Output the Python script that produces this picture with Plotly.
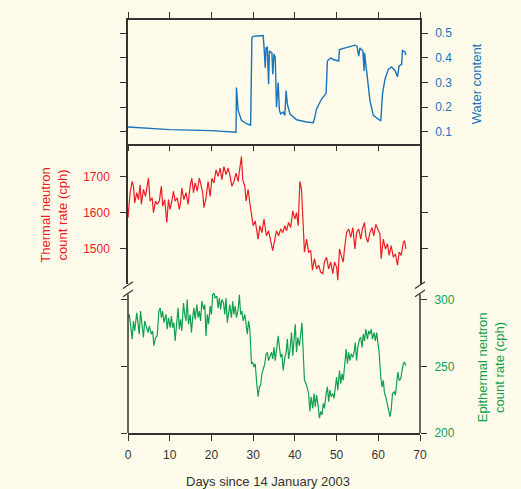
import plotly.graph_objects as go

# ---------------- data ----------------
water_day = [0.0, 10.0, 20.0, 25.9, 26.0, 26.2, 26.4, 27.2, 28.4, 29.4, 29.7, 30.0, 32.4, 32.6,
             32.9, 33.1, 33.4, 33.7, 33.9, 34.5, 34.7, 35.0, 35.3, 35.6, 36.0, 36.3, 36.6,
             37.2, 37.6, 37.9, 38.2, 38.8, 40.4, 42.8, 44.4, 44.7, 45.2, 46.4, 47.5, 47.8,
             48.6, 49.2, 50.5, 50.7, 51.6, 53.2, 54.4, 54.9, 55.3, 55.6, 56.3, 56.6, 56.7,
             57.2, 58.0, 58.8, 60.0, 60.6, 61.0, 61.6, 62.4, 63.2, 64.0, 64.6, 65.0, 65.6,
             65.8, 66.4, 66.6]
water_content = [0.120, 0.109, 0.105, 0.099, 0.280, 0.220, 0.187, 0.147, 0.133, 0.127, 0.480,
                 0.487, 0.490, 0.447, 0.360, 0.440, 0.443, 0.293, 0.427, 0.420, 0.333, 0.416,
                 0.400, 0.200, 0.300, 0.187, 0.173, 0.180, 0.167, 0.267, 0.213, 0.173, 0.149,
                 0.140, 0.137, 0.153, 0.193, 0.233, 0.256, 0.387, 0.400, 0.393, 0.387, 0.433,
                 0.437, 0.447, 0.451, 0.447, 0.407, 0.440, 0.427, 0.347, 0.420, 0.347, 0.227,
                 0.167, 0.149, 0.144, 0.253, 0.313, 0.353, 0.363, 0.349, 0.323, 0.367, 0.373,
                 0.430, 0.424, 0.411]

thermal_day = [0.0, 0.5, 1.0, 1.3, 1.6, 2.1, 2.5, 2.9, 3.2, 3.7, 4.2, 4.5, 4.9, 5.3, 5.8, 6.1,
               6.6, 7.0, 7.5, 8.0, 8.3, 8.8, 9.3, 9.7, 10.1, 10.5, 10.9, 11.3, 11.8, 12.3, 12.6,
               12.9, 13.4, 13.9, 14.4, 14.9, 15.3, 15.7, 16.1, 16.6, 17.1, 17.4, 17.9, 18.2,
               18.7, 19.2, 19.7, 20.1, 20.6, 21.1, 21.6, 22.1, 22.5, 23.0, 23.5, 24.0, 24.4,
               24.9, 25.4, 25.9, 26.4, 26.7, 27.2, 27.5, 28.0, 28.3, 28.8, 29.2, 29.7, 30.0,
               30.5, 30.8, 31.2, 31.6, 32.1, 32.6, 32.9, 33.2, 33.7, 34.2, 34.7, 35.2, 35.6,
               36.1, 36.6, 37.1, 37.6, 38.0, 38.5, 39.0, 39.5, 40.0, 40.4, 40.8, 41.2, 41.6,
               42.0, 42.3, 42.8, 43.3, 43.8, 44.2, 44.7, 45.2, 45.7, 46.2, 46.7, 47.1, 47.6,
               48.1, 48.6, 49.1, 49.5, 50.0, 50.3, 50.7, 51.1, 51.6, 51.9, 52.4, 52.9, 53.4,
               53.9, 54.4, 54.8, 55.3, 55.8, 56.2, 56.7, 57.0, 57.5, 58.0, 58.5, 58.9, 59.4,
               59.9, 60.4, 60.7, 61.2, 61.7, 62.2, 62.6, 63.1, 63.6, 64.1, 64.6, 65.0, 65.5,
               66.0, 66.3, 66.6]
thermal_rate = [1586, 1655, 1686, 1673, 1627, 1655, 1636, 1677, 1623, 1664, 1645, 1668, 1695,
                1632, 1641, 1600, 1632, 1623, 1632, 1673, 1618, 1636, 1573, 1636, 1609, 1632,
                1659, 1632, 1641, 1609, 1627, 1668, 1636, 1655, 1623, 1673, 1695, 1655, 1682,
                1659, 1695, 1682, 1655, 1614, 1641, 1686, 1645, 1695, 1682, 1718, 1700, 1723,
                1691, 1727, 1705, 1723, 1705, 1673, 1686, 1709, 1686, 1714, 1755, 1691, 1673,
                1632, 1664, 1627, 1582, 1564, 1577, 1555, 1527, 1564, 1545, 1582, 1555, 1536,
                1550, 1518, 1495, 1527, 1550, 1536, 1555, 1545, 1564, 1550, 1573, 1559, 1605,
                1582, 1600, 1564, 1686, 1664, 1573, 1491, 1527, 1491, 1495, 1441, 1473, 1445,
                1455, 1436, 1432, 1464, 1477, 1445, 1464, 1432, 1464, 1450, 1414, 1500, 1482,
                1464, 1500, 1545, 1555, 1532, 1559, 1500, 1545, 1555, 1527, 1555, 1573, 1536,
                1518, 1545, 1559, 1536, 1568, 1555, 1541, 1473, 1527, 1500, 1514, 1482, 1509,
                1477, 1486, 1455, 1491, 1482, 1518, 1523, 1500]

epi_day = [0.0, 0.3, 0.6, 1.0, 1.3, 1.6, 2.1, 2.4, 2.7, 3.0, 3.4, 3.7, 4.0, 4.5, 4.8, 5.1, 5.6,
           5.9, 6.2, 6.6, 7.0, 7.4, 7.7, 8.0, 8.3, 8.6, 9.1, 9.4, 9.7, 10.1, 10.4, 10.7, 11.0,
           11.3, 11.7, 12.0, 12.3, 12.6, 12.9, 13.3, 13.6, 13.9, 14.2, 14.5, 14.9, 15.2, 15.5,
           15.8, 16.1, 16.5, 16.8, 17.1, 17.4, 17.7, 18.1, 18.4, 18.7, 19.0, 19.3, 19.7, 20.0,
           20.3, 20.6, 20.9, 21.3, 21.6, 21.9, 22.2, 22.5, 22.9, 23.2, 23.5, 23.8, 24.1, 24.4,
           24.8, 25.1, 25.4, 25.7, 26.0, 26.4, 26.7, 27.0, 27.3, 27.6, 28.0, 28.3, 28.6, 28.9,
           29.2, 29.6, 29.9, 30.2, 30.5, 30.8, 31.2, 31.5, 31.8, 32.1, 32.4, 32.8, 33.1, 33.4,
           33.7, 34.0, 34.4, 34.7, 35.0, 35.3, 35.6, 36.0, 36.3, 36.6, 36.9, 37.2, 37.6, 37.9,
           38.2, 38.5, 38.8, 39.2, 39.5, 39.8, 40.1, 40.4, 40.7, 41.1, 41.4, 41.7, 42.0, 42.3,
           42.7, 43.0, 43.3, 43.6, 43.9, 44.3, 44.6, 44.9, 45.2, 45.5, 45.9, 46.2, 46.5, 46.8,
           47.1, 47.5, 47.8, 48.1, 48.4, 48.7, 49.1, 49.4, 49.7, 50.0, 50.3, 50.7, 51.0, 51.3,
           51.6, 51.9, 52.3, 52.6, 52.9, 53.2, 53.5, 53.9, 54.2, 54.5, 54.8, 55.1, 55.5, 55.8,
           56.1, 56.4, 56.7, 57.0, 57.4, 57.7, 58.0, 58.3, 58.6, 59.0, 59.3, 59.6, 59.9, 60.2,
           60.6, 60.9, 61.2, 61.5, 61.8, 62.2, 62.5, 62.8, 63.1, 63.4, 63.8, 64.1, 64.4, 64.7,
           65.0, 65.4, 65.7, 66.0, 66.3, 66.6]
epi_rate = [286.4, 288.9, 281.5, 270.4, 284.0, 276.5, 290.1, 279.0, 274.1, 291.4, 281.5, 271.6,
            284.0, 279.0, 275.3, 280.2, 274.1, 276.5, 265.4, 271.6, 272.8, 291.4, 293.8, 286.4,
            291.4, 282.7, 288.9, 277.8, 286.4, 279.0, 287.7, 279.0, 282.7, 269.1, 287.7, 293.8,
            277.8, 285.2, 276.5, 297.5, 288.9, 284.0, 300.0, 281.5, 288.9, 275.3, 286.4, 293.8,
            285.2, 296.3, 286.4, 291.4, 284.0, 298.8, 292.6, 296.3, 272.8, 288.9, 281.5, 295.1,
            288.9, 303.7, 304.9, 301.2, 302.5, 293.8, 301.2, 292.6, 300.0, 297.5, 288.9, 301.2,
            282.7, 291.4, 296.3, 286.4, 298.8, 288.9, 295.1, 286.4, 292.6, 303.7, 288.9, 291.4,
            284.0, 288.9, 281.5, 274.1, 284.0, 277.8, 251.9, 253.1, 249.4, 251.9, 239.5, 227.2,
            234.6, 235.8, 244.4, 248.2, 251.9, 259.3, 260.5, 254.3, 256.8, 260.5, 255.6, 264.2,
            254.3, 263.0, 272.8, 264.2, 256.8, 259.3, 246.9, 256.8, 260.5, 270.4, 255.6, 261.7,
            275.3, 258.0, 269.1, 281.5, 260.5, 271.6, 265.4, 276.5, 282.7, 260.5, 239.5, 237.0,
            232.1, 229.6, 216.1, 227.2, 218.5, 229.6, 219.8, 228.4, 222.2, 211.1, 216.1, 213.6,
            222.2, 218.5, 229.6, 234.6, 223.5, 232.1, 227.2, 229.6, 225.9, 234.6, 242.0, 232.1,
            246.9, 237.0, 244.4, 239.5, 251.9, 263.0, 251.9, 260.5, 254.3, 259.3, 256.8, 260.5,
            267.9, 254.3, 264.2, 270.4, 271.6, 264.2, 274.1, 269.1, 277.8, 270.4, 276.5, 274.1,
            277.8, 270.4, 275.3, 269.1, 275.3, 266.7, 260.5, 242.0, 234.6, 239.5, 229.6, 227.2,
            221.0, 218.5, 212.3, 217.3, 229.6, 230.9, 228.4, 237.0, 245.7, 239.5, 240.7, 246.9,
            251.9, 253.1, 250.6]

x_ticks = [0, 10, 20, 30, 40, 50, 60, 70]
water_ticks = [0.1, 0.2, 0.3, 0.4, 0.5]
thermal_ticks = [1500, 1600, 1700]
epi_ticks = [200, 250, 300]

# ---------------- styling ----------------
BG = "#FFFBEA"
AX = "#333333"
BLUE = "#1874BC"
RED = "#EC1C24"
GREEN = "#0FA150"
FONT = "Liberation Sans, Arial, sans-serif"

W, H = 521, 489
ML, MR, MT, MB = 128, 101, 15, 56
PW, PH = W - ML - MR, H - MT - MB


def px(xp):
    return (xp - ML) / PW


def py(yp):
    return (H - MB - yp) / PH


fig = go.Figure()
fig.add_trace(go.Scatter(x=water_day, y=water_content, mode="lines",
                         line=dict(color=BLUE, width=1.4), xaxis="x3", yaxis="y3"))
fig.add_trace(go.Scatter(x=thermal_day, y=thermal_rate, mode="lines",
                         line=dict(color=RED, width=1.2), xaxis="x2", yaxis="y2"))
fig.add_trace(go.Scatter(x=epi_day, y=epi_rate, mode="lines",
                         line=dict(color=GREEN, width=1.2), xaxis="x", yaxis="y"))

common_y = dict(showgrid=False, zeroline=False, ticks="outside", ticklen=6,
                tickcolor=AX, tickwidth=1.3)

fig.update_layout(
    width=W, height=H,
    margin=dict(l=ML, r=MR, t=MT, b=MB),
    paper_bgcolor=BG, plot_bgcolor=BG,
    showlegend=False,
    font=dict(family=FONT, size=12, color=AX),
    xaxis=dict(domain=[0, 1], anchor="y", range=[0, 70], tickvals=x_ticks,
               showgrid=False, zeroline=False, showline=True, linecolor=AX, linewidth=1.5,
               ticks="outside", ticklen=6, tickcolor=AX, tickwidth=1.3,
               tickfont=dict(size=12, color=AX), ticklabelstandoff=4),
    xaxis2=dict(domain=[0, 1], anchor="y2", matches="x", visible=False),
    xaxis3=dict(domain=[0, 1], anchor="y3", matches="x", tickvals=x_ticks,
                showgrid=False, zeroline=False, showline=True, linecolor=AX, linewidth=1.5,
                mirror="ticks", ticks="outside", ticklen=6, tickcolor=AX, tickwidth=1.3,
                showticklabels=False),
    yaxis=dict(domain=[0, py(289)], anchor="x", range=[200, 200 + (H - MB - 289) / 1.35],
               tickvals=epi_ticks, side="right", mirror="ticks", showline=False,
               tickfont=dict(size=12, color=GREEN), ticklabelstandoff=5, **common_y),
    yaxis2=dict(domain=[py(282), py(140)], anchor="x2", range=[1403.8, 1790.7],
                tickvals=thermal_ticks, side="left", showline=True, linecolor=AX, linewidth=1.5,
                mirror="ticks", tickfont=dict(size=12, color=RED), ticklabelstandoff=8,
                **common_y),
    yaxis3=dict(domain=[py(140), 1], anchor="x3", range=[0.053, 0.553],
                tickvals=water_ticks, tickformat=".1f", side="right", showline=True,
                linecolor=AX, linewidth=1.5, mirror="ticks",
                tickfont=dict(size=12, color=BLUE), ticklabelstandoff=5, **common_y),
)

shapes = []
# bottom panel vertical axis lines (start below the break)
for xv in (0, 1):
    shapes.append(dict(type="line", xref="paper", yref="paper", x0=xv, x1=xv,
                       y0=0, y1=py(292.5), line=dict(color=AX, width=1.5)))
# break marks
for xc in (128, 420):
    for yc in (283.3, 291.6):
        shapes.append(dict(type="line", xref="paper", yref="paper",
                           x0=px(xc - 5), y0=py(yc + 3.4), x1=px(xc + 5), y1=py(yc - 3.4),
                           line=dict(color=AX, width=1.2)))
fig.update_layout(shapes=shapes)

annotations = [
    dict(text="Thermal neutron<br>count rate (cph)", x=px(54.5), y=py(212.5),
         xref="paper", yref="paper", showarrow=False, textangle=-90,
         font=dict(size=13, color=RED), xanchor="center", yanchor="middle"),
    dict(text="Water content", x=px(476), y=py(80), xref="paper", yref="paper",
         showarrow=False, textangle=-90, font=dict(size=13, color=BLUE),
         xanchor="center", yanchor="middle"),
    dict(text="Epithermal neutron<br>count rate (cph)", x=px(491), y=py(366.5),
         xref="paper", yref="paper", showarrow=False, textangle=-90,
         font=dict(size=13, color=GREEN), xanchor="center", yanchor="middle"),
    dict(text="Days since 14 January 2003", x=px(267.7), y=py(482), xref="paper",
         yref="paper", showarrow=False, font=dict(size=13, color=AX),
         xanchor="center", yanchor="middle"),
]
fig.update_layout(annotations=annotations)

fig.write_html("out.html")
